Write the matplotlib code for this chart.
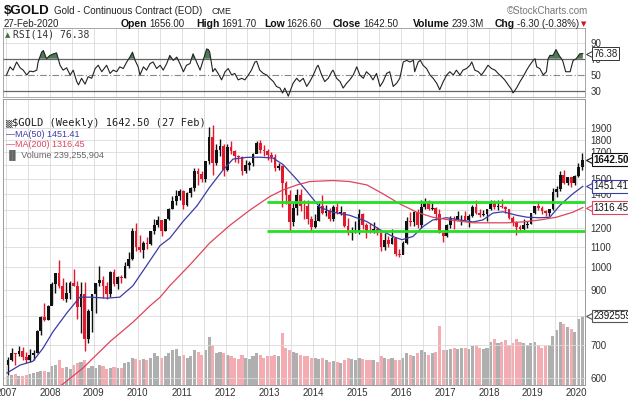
import matplotlib
matplotlib.use('Agg')
import matplotlib.pyplot as plt
import matplotlib.transforms as mtransforms
import numpy as np

W, H = 628, 399

# ---------------- data (monthly candles) ----------------
first_open = 636.0
closes = [652, 672, 669, 680, 660, 651, 668, 673, 746, 795, 783, 838,
          924, 975, 917, 864, 888, 930, 919, 834, 884, 718, 818, 884,
          928, 942, 917, 884, 980, 927, 955, 952, 1004, 1040, 1182, 1096,
          1081, 1119, 1113, 1180, 1213, 1244, 1181, 1248, 1308, 1358, 1386, 1421,
          1333, 1410, 1439, 1556, 1536, 1500, 1628, 1826, 1620, 1716, 1746, 1566,
          1738, 1710, 1669, 1664, 1561, 1604, 1614, 1687, 1775, 1720, 1712, 1675,
          1664, 1578, 1595, 1476, 1393, 1234, 1313, 1396, 1327, 1323, 1250, 1202,
          1240, 1326, 1284, 1296, 1246, 1322, 1282, 1287, 1210, 1171, 1175, 1184,
          1279, 1213, 1183, 1182, 1190, 1172, 1095, 1134, 1114, 1142, 1065, 1060,
          1116, 1238, 1234, 1290, 1217, 1321, 1350, 1309, 1316, 1275, 1173, 1152,
          1212, 1250, 1249, 1268, 1269, 1242, 1269, 1322, 1283, 1271, 1275, 1309,
          1345, 1318, 1325, 1318, 1305, 1254, 1233, 1206, 1195, 1215, 1223, 1283,
          1325, 1316, 1298, 1285, 1306, 1413, 1437, 1529, 1472, 1514, 1473, 1524,
          1587, 1642.5]
highs = [660, 690, 672, 696, 693, 675, 686, 684, 750, 797, 848, 840,
         932, 975, 1033, 950, 935, 940, 990, 940, 935, 935, 825, 885,
         930, 1007, 960, 932, 983, 990, 960, 966, 1025, 1071, 1196, 1227,
         1162, 1128, 1147, 1180, 1250, 1265, 1245, 1250, 1312, 1388, 1425, 1432,
         1424, 1414, 1448, 1576, 1577, 1556, 1632, 1912, 1924, 1762, 1804, 1764,
         1764, 1792, 1720, 1678, 1667, 1640, 1630, 1693, 1789, 1798, 1755, 1726,
         1697, 1684, 1617, 1605, 1488, 1424, 1348, 1434, 1434, 1362, 1361, 1267,
         1280, 1345, 1392, 1331, 1315, 1332, 1346, 1325, 1292, 1255, 1206, 1240,
         1307, 1285, 1225, 1224, 1232, 1205, 1175, 1170, 1157, 1191, 1142, 1088,
         1128, 1263, 1287, 1297, 1306, 1362, 1377, 1366, 1352, 1317, 1306, 1183,
         1222, 1264, 1265, 1298, 1273, 1298, 1275, 1332, 1362, 1306, 1300, 1309,
         1366, 1365, 1365, 1369, 1326, 1310, 1266, 1237, 1215, 1246, 1237, 1285,
         1326, 1349, 1325, 1303, 1305, 1442, 1453, 1555, 1566, 1518, 1517, 1530,
         1613, 1691.7]
lows = [608, 648, 637, 663, 651, 642, 647, 652, 673, 731, 782, 785,
        845, 888, 910, 860, 850, 863, 915, 786, 740, 681, 705, 743,
        810, 917, 866, 865, 872, 916, 905, 930, 950, 997, 1036, 1075,
        1073, 1045, 1085, 1110, 1165, 1205, 1157, 1180, 1245, 1308, 1330, 1360,
        1308, 1325, 1380, 1418, 1462, 1478, 1480, 1610, 1532, 1600, 1669, 1523,
        1560, 1688, 1627, 1614, 1527, 1547, 1564, 1591, 1690, 1691, 1672, 1636,
        1625, 1555, 1562, 1321, 1338, 1180, 1208, 1273, 1293, 1251, 1221, 1182,
        1198, 1238, 1277, 1268, 1240, 1240, 1280, 1273, 1205, 1160, 1131, 1170,
        1167, 1191, 1142, 1170, 1170, 1162, 1077, 1080, 1098, 1114, 1052, 1046,
        1062, 1111, 1208, 1208, 1200, 1200, 1310, 1301, 1303, 1241, 1171, 1124,
        1147, 1200, 1195, 1244, 1214, 1236, 1205, 1260, 1280, 1260, 1264, 1238,
        1303, 1308, 1303, 1314, 1282, 1250, 1211, 1160, 1183, 1185, 1197, 1221,
        1277, 1303, 1280, 1266, 1268, 1301, 1382, 1422, 1465, 1459, 1445, 1462,
        1518, 1562]
volumes_m = [30, 35, 38, 32, 30, 35, 38, 40, 45, 48, 50, 45,
             65, 70, 85, 60, 62, 55, 70, 75, 80, 85, 60, 65,
             60, 70, 65, 55, 60, 62, 58, 60, 75, 80, 95, 90,
             85, 90, 88, 95, 110, 100, 95, 100, 110, 120, 125, 100,
             105, 95, 100, 120, 115, 105, 120, 165, 140, 110, 115, 110,
             105, 100, 95, 90, 105, 95, 90, 100, 110, 105, 95, 100,
             100, 105, 100, 180, 130, 120, 115, 110, 105, 100, 100, 95,
             95, 90, 95, 85, 80, 82, 80, 78, 85, 95, 90, 85,
             95, 90, 88, 85, 85, 80, 100, 95, 90, 95, 88, 85,
             95, 110, 105, 100, 110, 120, 115, 105, 110, 115, 205, 120,
             120, 125, 130, 125, 130, 130, 125, 135, 140, 130, 125, 130,
             150, 160, 145, 150, 155, 140, 145, 160, 150, 145, 140, 145,
             150, 140, 130, 135, 140, 170, 190, 220, 210, 200, 195, 185,
             230, 239.26]

ma50_t = [2007.02, 2007.32, 2007.61, 2007.84, 2008.07, 2008.39, 2008.68, 2008.91, 2009.30,
          2009.59, 2009.89, 2010.21, 2010.51, 2010.73, 2011.03, 2011.35, 2011.64, 2011.94,
          2012.17, 2012.49, 2012.78, 2013.08, 2013.31, 2013.63, 2013.85, 2013.92, 2014.15,
          2014.45, 2014.83, 2015.22, 2015.52, 2015.81, 2016.02, 2016.27, 2016.50, 2016.72,
          2017.04, 2017.34, 2017.64, 2017.86, 2018.09, 2018.32, 2018.64, 2018.87, 2019.16,
          2019.39, 2019.62, 2019.91, 2020.14]
ma50_v = [614, 637, 648, 688, 743, 811, 871, 871, 867,
          871, 918, 1010, 1105, 1143, 1234, 1327, 1446, 1564,
          1646, 1659, 1660, 1654, 1605, 1496, 1420, 1395, 1318,
          1288, 1270, 1234, 1189, 1152, 1135, 1152, 1206, 1243,
          1256, 1243, 1232, 1243, 1283, 1291, 1270, 1259, 1256,
          1259, 1330, 1402, 1451.41]

ma200_t = [2008.15, 2008.75, 2009.37, 2009.89, 2010.28, 2010.51, 2010.73, 2011.19, 2011.64,
           2012.10, 2012.56, 2013.01, 2013.31, 2013.63, 2013.92, 2014.45, 2014.83, 2015.22,
           2015.59, 2015.97, 2016.36, 2016.72, 2017.11, 2017.64, 2018.41, 2018.77, 2019.16,
           2019.54, 2019.91, 2020.14]
ma200_v = [570, 628, 710, 776, 837, 871, 918, 1011, 1118,
           1213, 1302, 1385, 1428, 1461, 1484, 1491, 1484, 1461,
           1402, 1339, 1288, 1259, 1243, 1227, 1227, 1232, 1243,
           1259, 1288, 1316.45]

rsi_t = [2007.01, 2007.09, 2007.16, 2007.24, 2007.32, 2007.39, 2007.47, 2007.54, 2007.62, 2007.70,
         2007.73, 2007.81, 2007.85, 2007.92, 2008.00, 2008.08, 2008.15, 2008.23, 2008.30, 2008.38,
         2008.46, 2008.53, 2008.61, 2008.65, 2008.72, 2008.80, 2008.87, 2008.95, 2009.03, 2009.10,
         2009.18, 2009.29, 2009.37, 2009.44, 2009.52, 2009.59, 2009.67, 2009.75, 2009.82, 2009.88,
         2009.94, 2010.01, 2010.05, 2010.13, 2010.20, 2010.28, 2010.35, 2010.43, 2010.51, 2010.58,
         2010.66, 2010.73, 2010.81, 2010.89, 2010.96, 2011.04, 2011.11, 2011.19, 2011.26, 2011.34,
         2011.42, 2011.49, 2011.57, 2011.61, 2011.64, 2011.71, 2011.76, 2011.83, 2011.91, 2011.99,
         2012.06, 2012.14, 2012.21, 2012.29, 2012.37, 2012.44, 2012.52, 2012.59, 2012.67, 2012.71,
         2012.78, 2012.86, 2012.94, 2013.01, 2013.09, 2013.16, 2013.24, 2013.30, 2013.35, 2013.43,
         2013.47, 2013.54, 2013.62, 2013.69, 2013.77, 2013.85, 2013.92, 2014.00, 2014.08, 2014.11,
         2014.19, 2014.26, 2014.34, 2014.42, 2014.45, 2014.53, 2014.61, 2014.68, 2014.76, 2014.83,
         2014.91, 2014.99, 2015.06, 2015.14, 2015.21, 2015.29, 2015.36, 2015.44, 2015.52, 2015.59,
         2015.67, 2015.74, 2015.82, 2015.90, 2015.97, 2016.05, 2016.13, 2016.20, 2016.28, 2016.31,
         2016.39, 2016.44, 2016.50, 2016.58, 2016.66, 2016.73, 2016.81, 2016.88, 2016.96, 2017.04,
         2017.11, 2017.19, 2017.26, 2017.34, 2017.41, 2017.49, 2017.57, 2017.61, 2017.68, 2017.76,
         2017.83, 2017.91, 2017.98, 2018.06, 2018.14, 2018.21, 2018.29, 2018.36, 2018.44, 2018.52,
         2018.55, 2018.63, 2018.71, 2018.78, 2018.86, 2018.93, 2019.01, 2019.05, 2019.09, 2019.16,
         2019.24, 2019.31, 2019.35, 2019.39, 2019.46, 2019.53, 2019.60, 2019.68, 2019.75, 2019.85,
         2019.92, 2019.99, 2020.07, 2020.14]
rsi_v = [49.6, 59.8, 55.7, 65.9, 58.6, 55.7, 49.6, 54.5, 53.7, 55.7,
         65.9, 78.1, 80.2, 70.0, 74.1, 76.1, 77.3, 61.8, 55.7, 58.6,
         49.6, 55.7, 41.4, 37.3, 45.5, 38.2, 47.5, 45.5, 57.7, 61.8,
         53.7, 61.8, 51.6, 55.7, 53.7, 59.8, 57.7, 65.9, 72.0, 78.1,
         67.9, 59.8, 49.6, 59.8, 55.7, 63.9, 65.9, 57.7, 61.8, 55.7,
         63.9, 74.1, 67.9, 72.0, 63.9, 53.7, 61.8, 63.9, 76.1, 65.9,
         55.7, 67.9, 82.2, 81.4, 78.1, 53.7, 57.7, 51.6, 43.5, 53.7,
         57.7, 49.6, 51.6, 43.5, 45.5, 43.5, 49.6, 55.7, 65.9, 66.7,
         55.7, 51.6, 49.6, 45.5, 41.4, 35.3, 33.3, 27.1, 33.3, 23.1,
         29.2, 39.4, 45.5, 41.4, 45.5, 35.3, 41.4, 49.6, 59.8, 61.8,
         49.6, 41.4, 45.5, 53.7, 55.7, 45.5, 41.4, 33.3, 39.4, 43.5,
         49.6, 59.8, 49.6, 45.5, 53.7, 49.6, 43.5, 51.6, 35.3, 41.4,
         51.6, 53.7, 35.3, 39.4, 45.5, 65.9, 67.9, 65.9, 67.9, 53.7,
         65.9, 67.9, 61.8, 57.7, 49.6, 45.5, 39.4, 31.2, 41.4, 49.6,
         53.7, 49.6, 55.7, 49.6, 55.7, 57.7, 61.8, 65.9, 55.7, 53.7,
         49.6, 55.7, 61.8, 57.7, 55.7, 51.6, 47.5, 43.5, 37.3, 31.2,
         27.1, 33.3, 41.4, 47.5, 55.7, 61.8, 67.9, 70.0, 59.8, 57.7,
         49.6, 53.7, 70.0, 74.1, 74.1, 81.4, 74.1, 67.9, 53.7, 53.7,
         67.9, 70.0, 76.1, 76.38]

year_ticks = list(range(2007, 2021))
price_ticks = [600, 700, 800, 900, 1000, 1100, 1200, 1300, 1400, 1500, 1600, 1700, 1800, 1900]
hidden_price_labels = [800, 1300, 1600]
rsi_ticks = [30, 50, 70, 90]
support_level = 1182
resistance_level = 1352
band_start = 2012.94

# ---------------- figure ----------------
FONT = 'Liberation Sans'
plt.rcParams['font.family'] = [FONT, 'DejaVu Sans']

fig = plt.figure(figsize=(W / 100, H / 100), dpi=100)
fig.patch.set_facecolor('white')

def fx(x):
    return x / W

def fy(y):
    return 1 - y / H

ax_l, ax_r = 3, 585
xmin, xmax = 2006.93, 2020.19
GRID = '#dadada'

# RSI panel
rsi_top, rsi_bot = 28, 97
ax_rsi = fig.add_axes([fx(ax_l), fy(rsi_bot), (ax_r - ax_l) / W, (rsi_bot - rsi_top) / H])
# main panel
main_top, main_bot = 99, 385
ax = fig.add_axes([fx(ax_l), fy(main_bot), (ax_r - ax_l) / W, (main_bot - main_top) / H])
axv = ax.twinx()

for a in (ax_rsi, ax, axv):
    a.set_xlim(xmin, xmax)
    for s in a.spines.values():
        s.set_color('#9a9a9a')
        s.set_linewidth(0.6)

half_years = [y + h for y in range(2007, 2021) for h in (0.0, 0.5)]

# --- RSI ---
rt = np.array(rsi_t)
rv = np.array(rsi_v)
ax_rsi.set_ylim(22.1, 108.4)
for hy in half_years:
    ax_rsi.axvline(hy, color=GRID, lw=0.6, zorder=0)
ax_rsi.axhline(90, color=GRID, lw=0.6, zorder=0)
ax_rsi.axhline(70, color='#666666', lw=0.9, zorder=1)
ax_rsi.axhline(30, color='#666666', lw=0.9, zorder=1)
ax_rsi.axhline(50, color='#888888', lw=0.8, ls=(0, (6, 2, 1, 2)), zorder=1)
ax_rsi.fill_between(rt, 70, rv, where=rv > 70, interpolate=True, color='#4b7a55', lw=0, zorder=2)
ax_rsi.plot(rt, rv, color='#222222', lw=0.8, zorder=3)
ax_rsi.set_xticks([])
ax_rsi.yaxis.tick_right()
ax_rsi.set_yticks(rsi_ticks)
ax_rsi.set_yticklabels([str(v) for v in rsi_ticks])
ax_rsi.tick_params(axis='y', length=0, pad=4, labelsize=7, labelcolor='#333333')
ax_rsi.text(0.004, 0.90, '\u25B2', transform=ax_rsi.transAxes, fontsize=5, color='#3c6e47',
            va='center', ha='left', family='DejaVu Sans')
ax_rsi.text(0.018, 0.90, 'RSI(14) 76.38', transform=ax_rsi.transAxes, fontsize=7,
            va='center', ha='left', family='DejaVu Sans Mono', color='#333333')
# RSI value tag
tr_r = mtransforms.blended_transform_factory(ax_rsi.transAxes, ax_rsi.transData)
ax_rsi.annotate('76.38', xy=(1.0, rsi_v[-1]), xycoords=tr_r, xytext=(6, 0), textcoords='offset points',
                fontsize=7, va='center', ha='left', color='#222222', annotation_clip=False,
                bbox=dict(boxstyle='square,pad=0.12', fc='white', ec='#333333', lw=0.7), zorder=10)
ax_rsi.plot([1.0 + 3.5 / (ax_r - ax_l)], [rsi_v[-1]], marker='<', ms=4, mfc='white', mec='#333333',
            mew=0.7, transform=tr_r, clip_on=False, zorder=11)

# --- main price panel ---
ax.set_yscale('log')
ax.set_ylim(581, 2171)
ax.minorticks_off()
for hy in half_years:
    ax.axvline(hy, color=GRID, lw=0.6, zorder=0)
for p in price_ticks:
    ax.axhline(p, color=GRID, lw=0.6, zorder=0)

n = len(closes)
t = np.array([2007 + (i + 0.5) / 12 for i in range(n)])
opens = np.array([first_open] + closes[:-1], dtype=float)
c = np.array(closes, dtype=float)
hi = np.array(highs, dtype=float)
lo = np.array(lows, dtype=float)
up = c >= opens
cols = np.where(up, '#111111', '#e3182d')

# volume (behind) on twin axis
axv.set_ylim(0, 991.6)
vcols = np.where(up, '#a6a6a6', '#f1a3aa')
axv.bar(t, volumes_m, width=1 / 12 * 0.85, color=vcols, alpha=0.9, lw=0, zorder=1)
axv.set_yticks([])
axv.set_zorder(0)
ax.set_zorder(1)
ax.patch.set_visible(False)

ax.vlines(t, lo, hi, colors=cols, lw=1.0, zorder=3)
body_lo = np.minimum(opens, c)
body_hi = np.maximum(opens, c)
ax.bar(t, body_hi - body_lo, bottom=body_lo, width=1 / 12 * 0.75, color=cols, lw=0, zorder=3)

ax.plot(ma50_t, ma50_v, color='#3b3ba6', lw=0.9, zorder=4)
ax.plot(ma200_t, ma200_v, color='#e0435e', lw=0.9, zorder=4)

ax.hlines([resistance_level, support_level], band_start, xmax, colors='#22e022', lw=2.0, zorder=5)

# axes ticks
ax.yaxis.tick_right()
ax.set_yticks(price_ticks)
ax.set_yticklabels(['' if p in hidden_price_labels else str(p) for p in price_ticks])
ax.tick_params(axis='y', length=0, pad=4, labelsize=7, labelcolor='#333333')
ax.set_xticks(year_ticks)
ax.set_xticklabels([str(y) for y in year_ticks])
ax.tick_params(axis='x', length=0, pad=2.5, labelsize=7, labelcolor='#333333')

# value tags on the right
tr_m = mtransforms.blended_transform_factory(ax.transAxes, ax.transData)
def tag(value, text, ec, bold=False):
    ax.annotate(text, xy=(1.0, value), xycoords=tr_m, xytext=(6, 0), textcoords='offset points',
                fontsize=7, va='center', ha='left', color='#111111',
                fontweight='bold' if bold else 'normal', annotation_clip=False,
                bbox=dict(boxstyle='square,pad=0.12', fc='white', ec=ec, lw=0.8), zorder=10)
    ax.plot([1.0 + 3.5 / (ax_r - ax_l)], [value], marker='<', ms=4.5, mfc='white', mec=ec,
            mew=0.8, transform=tr_m, clip_on=False, zorder=11)

tag(closes[-1], '1642.50', '#111111', bold=True)
tag(ma50_v[-1], '1451.41', '#3b3ba6')
tag(ma200_v[-1], '1316.45', '#e0435e')
# volume tag at the height of the last volume bar
vol_frac = volumes_m[-1] / 991.6
tr_v = mtransforms.blended_transform_factory(ax.transAxes, ax.transAxes)
ax.annotate('239255904', xy=(1.0, vol_frac), xycoords=tr_v, xytext=(6, 0), textcoords='offset points',
            fontsize=7, va='center', ha='left', color='#111111', annotation_clip=False,
            bbox=dict(boxstyle='square,pad=0.12', fc='white', ec='#555555', lw=0.8), zorder=10)
ax.plot([1.0 + 3.5 / (ax_r - ax_l)], [vol_frac], marker='<', ms=4.5, mfc='white', mec='#555555',
        mew=0.8, transform=tr_v, clip_on=False, zorder=11)

# legend in main panel
ax.text(0.004, 0.915, '\u2592', transform=ax.transAxes, fontsize=6, color='#222222',
        va='center', ha='left', family='DejaVu Sans')
ax.text(0.016, 0.915, '$GOLD (Weekly) 1642.50 (27 Feb)', transform=ax.transAxes, fontsize=7.5,
        va='center', ha='left', family='DejaVu Sans Mono', color='#222222')
ax.text(0.006, 0.876, '\u2014MA(50) 1451.41', transform=ax.transAxes, fontsize=6.5,
        va='center', ha='left', color='#3b3ba6')
ax.text(0.006, 0.842, '\u2014MA(200) 1316.45', transform=ax.transAxes, fontsize=6.5,
        va='center', ha='left', color='#e0435e')
ax.text(0.006, 0.806, '\u2590\u258C Volume 239,255,904', transform=ax.transAxes, fontsize=6.5,
        va='center', ha='left', color='#666666', family=['Liberation Sans', 'DejaVu Sans'])

# ---------------- header ----------------
fig.text(fx(4), fy(11), '$GOLD', fontsize=9.5, fontweight='bold', va='center', ha='left', color='#111111')
fig.text(fx(54), fy(11.5), 'Gold - Continuous Contract (EOD)', fontsize=7, va='center', ha='left', color='#222222')
fig.text(fx(211), fy(11.5), 'CME', fontsize=6.5, va='center', ha='left', color='#222222')
fig.text(fx(588), fy(11.5), '\u00A9StockCharts.com', fontsize=7, va='center', ha='right', color='#777777')
fig.text(fx(4), fy(24), '27-Feb-2020', fontsize=7, va='center', ha='left', color='#222222')

renderer = fig.canvas.get_renderer()
segments = [(121, 'Open', '1656.00'), (196, 'High', '1691.70'), (264, 'Low', '1626.60'),
            (333, 'Close', '1642.50'), (413, 'Volume', '239.3M'), (495, 'Chg', '-6.30 (-0.38%)')]
last_x = 0
for x0, lab, val in segments:
    t1 = fig.text(fx(x0), fy(24), lab, fontsize=7.5, fontweight='bold', va='center', ha='left', color='#111111')
    bb = t1.get_window_extent(renderer)
    t2 = fig.text((bb.x1 + 2) / W, fy(24), val, fontsize=7, va='center', ha='left', color='#222222')
    last_x = t2.get_window_extent(renderer).x1
fig.text((last_x + 2) / W, fy(24), '\u25BC', fontsize=5, va='center', ha='left', color='#d0102a',
         family='DejaVu Sans')

fig.savefig('out.png', dpi=100, facecolor='white')
